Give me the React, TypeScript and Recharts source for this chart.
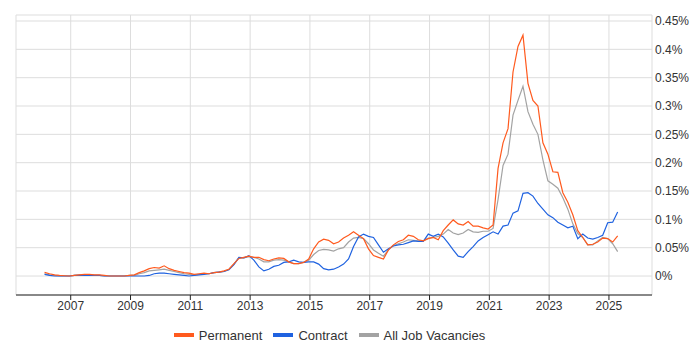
import { CartesianGrid, Legend, Line, LineChart, XAxis, YAxis } from "recharts";

// one point every two months, starting Feb 2006
const START_YEAR = 2006.125;
const STEP = 1 / 6;

const yearTicks = [2007, 2009, 2011, 2013, 2015, 2017, 2019, 2021, 2023, 2025];
const pctTicks = [0, 0.05, 0.1, 0.15, 0.2, 0.25, 0.3, 0.35, 0.4, 0.45];

// % share of job ads, six readings a year
const permanent = [
  0.0065, 0.004, 0.002, 0.001, 0.0005, 0.0, // 2006
  0.001, 0.002, 0.003, 0.003, 0.002, 0.002, // 2007
  0.001, 0.0, 0.0, 0.0, 0.0, 0.001, // 2008
  0.002, 0.006, 0.009, 0.013, 0.015, 0.014, // 2009
  0.018, 0.013, 0.01, 0.008, 0.006, 0.005, // 2010
  0.003, 0.004, 0.005, 0.004, 0.006, 0.007, // 2011
  0.009, 0.012, 0.022, 0.031, 0.033, 0.035, // 2012
  0.033, 0.033, 0.029, 0.027, 0.03, 0.032, // 2013
  0.031, 0.025, 0.022, 0.022, 0.024, 0.03, // 2014
  0.048, 0.06, 0.065, 0.063, 0.057, 0.06, // 2015
  0.067, 0.072, 0.078, 0.072, 0.066, 0.048, // 2016
  0.036, 0.033, 0.03, 0.046, 0.055, 0.061, // 2017
  0.064, 0.072, 0.07, 0.064, 0.062, 0.066, // 2018
  0.068, 0.064, 0.08, 0.09, 0.099, 0.092, // 2019
  0.09, 0.096, 0.088, 0.088, 0.085, 0.083, // 2020
  0.09, 0.19, 0.235, 0.26, 0.36, 0.405, // 2021
  0.425, 0.34, 0.31, 0.3, 0.235, 0.215, // 2022
  0.184, 0.183, 0.147, 0.13, 0.108, 0.08, // 2023
  0.068, 0.055, 0.056, 0.06, 0.067, 0.066, // 2024
  0.06, 0.071, // 2025
];

const contract = [
  0.003, 0.001, 0.0, 0.0, 0.0, 0.0,
  0.001, 0.001, 0.001, 0.001, 0.001, 0.001,
  0.0, 0.0, 0.0, 0.0, 0.0, 0.0,
  0.0, 0.0, 0.0, 0.001, 0.004, 0.005,
  0.005, 0.004, 0.003, 0.002, 0.001, 0.0,
  0.001, 0.002, 0.003, 0.004, 0.006, 0.007,
  0.008, 0.011, 0.02, 0.033, 0.032, 0.036,
  0.028, 0.016, 0.009, 0.012, 0.017, 0.019,
  0.024, 0.025, 0.028, 0.025, 0.024, 0.025,
  0.025, 0.021, 0.013, 0.011, 0.012, 0.016,
  0.021, 0.03, 0.052, 0.069, 0.074, 0.07,
  0.068, 0.055, 0.042, 0.048, 0.053, 0.055,
  0.056, 0.059, 0.062, 0.061, 0.061, 0.074,
  0.07, 0.074, 0.069, 0.058, 0.046, 0.035,
  0.033, 0.043, 0.052, 0.062, 0.068, 0.073,
  0.078, 0.074, 0.088, 0.09, 0.111, 0.115,
  0.146, 0.147, 0.141, 0.128, 0.118, 0.108,
  0.103, 0.095, 0.09, 0.085, 0.088, 0.066,
  0.074, 0.067, 0.065, 0.068, 0.072, 0.094,
  0.095, 0.113,
];

const allJobs = [
  0.004, 0.002, 0.001, 0.0, 0.0, 0.0,
  0.001, 0.002, 0.002, 0.002, 0.001, 0.001,
  0.0, 0.0, 0.0, 0.0, 0.0, 0.001,
  0.001, 0.004, 0.006, 0.009, 0.01, 0.011,
  0.012, 0.01, 0.008, 0.006, 0.004, 0.003,
  0.002, 0.003, 0.004, 0.004, 0.006, 0.007,
  0.008, 0.012, 0.021, 0.032, 0.032, 0.034,
  0.033, 0.03, 0.025, 0.025, 0.028, 0.029,
  0.028, 0.025, 0.022, 0.022, 0.024, 0.028,
  0.038, 0.045, 0.047, 0.046, 0.044, 0.048,
  0.05, 0.06, 0.067, 0.068, 0.066, 0.057,
  0.046, 0.04, 0.035, 0.046, 0.054, 0.057,
  0.06, 0.064, 0.063, 0.062, 0.062, 0.067,
  0.068, 0.07, 0.074, 0.082, 0.076, 0.073,
  0.076, 0.082, 0.078, 0.077, 0.079, 0.079,
  0.084, 0.135, 0.195, 0.215, 0.284, 0.31,
  0.335, 0.29, 0.268, 0.25, 0.205, 0.168,
  0.162, 0.155, 0.138, 0.118, 0.092, 0.075,
  0.068, 0.055, 0.055, 0.062, 0.068, 0.066,
  0.057, 0.043,
];

const COLORS = {
  permanent: "#ff5a1e",
  contract: "#1f62e0",
  all: "#a3a3a3",
};

const FONT = "Arial, 'Liberation Sans', sans-serif";

const rows = permanent.map((p, i) => ({
  t: START_YEAR + i * STEP,
  permanent: p,
  contract: contract[i],
  all: allJobs[i],
}));

function formatPct(v: number): string {
  return `${+v.toFixed(2)}%`;
}

const legendItems = [
  { label: "Permanent", color: COLORS.permanent },
  { label: "Contract", color: COLORS.contract },
  { label: "All Job Vacancies", color: COLORS.all },
];

function ChartLegend() {
  return (
    <div
      style={{
        height: 30,
        display: "flex",
        justifyContent: "center",
        alignItems: "center",
        paddingRight: 30,
        fontFamily: FONT,
        fontSize: 13,
        color: "#333",
      }}
    >
      {legendItems.map((item) => (
        <span
          key={item.label}
          style={{ display: "flex", alignItems: "center", marginRight: 11 }}
        >
          <span
            style={{
              display: "inline-block",
              width: 20,
              height: 4,
              backgroundColor: item.color,
              marginRight: 5,
            }}
          />
          {item.label}
        </span>
      ))}
    </div>
  );
}

export default function App() {
  return (
    <div style={{ position: "absolute", left: 0, top: 0, width: 700, height: 350 }}>
      <LineChart
        width={700}
        height={350}
        data={rows}
        margin={{ top: 15, right: 0, left: 16, bottom: 0 }}
      >
        <CartesianGrid stroke="#dddddd" />
        <XAxis
          dataKey="t"
          type="number"
          domain={[2005.17, 2026.44]}
          ticks={yearTicks}
          allowDataOverflow
          height={25}
          stroke="#222"
          tickSize={5}
          tickMargin={1}
          tick={{ fill: "#333", fontSize: 12, fontFamily: FONT }}
        />
        <YAxis
          orientation="right"
          type="number"
          domain={[-0.0335, 0.4606]}
          ticks={pctTicks}
          allowDataOverflow
          width={48}
          axisLine={false}
          tickLine={false}
          tickSize={0}
          tickMargin={3}
          tickFormatter={formatPct}
          tick={{ fill: "#333", fontSize: 12, fontFamily: FONT, textAnchor: "start" }}
        />
        <Legend
          verticalAlign="bottom"
          height={30}
          wrapperStyle={{ left: 0, width: 700 }}
          content={() => <ChartLegend />}
        />
        <Line
          type="linear"
          dataKey="all"
          name="All Job Vacancies"
          stroke={COLORS.all}
          strokeWidth={1.2}
          dot={false}
          isAnimationActive={false}
        />
        <Line
          type="linear"
          dataKey="contract"
          name="Contract"
          stroke={COLORS.contract}
          strokeWidth={1.2}
          dot={false}
          isAnimationActive={false}
        />
        <Line
          type="linear"
          dataKey="permanent"
          name="Permanent"
          stroke={COLORS.permanent}
          strokeWidth={1.2}
          dot={false}
          isAnimationActive={false}
        />
      </LineChart>
    </div>
  );
}
